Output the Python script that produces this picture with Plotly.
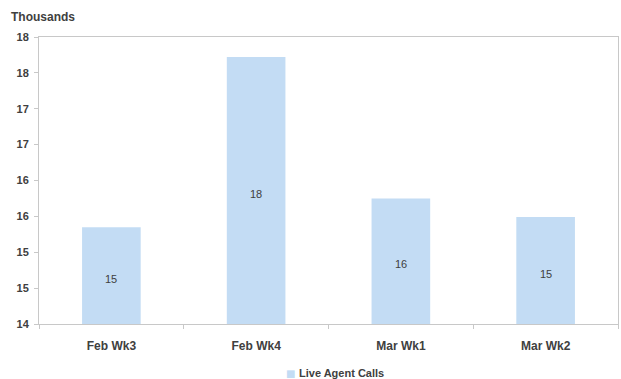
import plotly.graph_objects as go

categories = ["Feb Wk3", "Feb Wk4", "Mar Wk1", "Mar Wk2"]
calls_thousands = [15.35, 17.72, 15.75, 15.49]
bar_labels = ["15", "18", "16", "15"]
y_tick_vals = [14, 14.5, 15, 15.5, 16, 16.5, 17, 17.5, 18]
y_tick_labels = ["14", "15", "15", "16", "16", "17", "17", "18", "18"]
series_name = "Live Agent Calls"
y_min, y_max = 14, 18

font_family = "Liberation Sans, Arial, sans-serif"
text_color = "#404040"
bar_color = "#c3dcf4"

fig = go.Figure()
fig.add_trace(go.Bar(
    x=categories,
    y=calls_thousands,
    name=series_name,
    marker=dict(color=bar_color, line=dict(width=0)),
    width=0.405,
    showlegend=False,
    hoverinfo="x+y",
))

# data labels centred in the visible part of each bar
for cat, v, lab in zip(categories, calls_thousands, bar_labels):
    fig.add_annotation(
        x=cat, y=(y_min + v) / 2, xref="x", yref="y",
        text=lab, showarrow=False, yshift=-3,
        font=dict(family=font_family, size=11, color=text_color),
    )

fig.update_layout(
    width=621, height=379,
    margin=dict(l=39, r=3, t=37, b=55, autoexpand=False),
    paper_bgcolor="white",
    plot_bgcolor="white",
    font=dict(family=font_family, color=text_color),
    showlegend=False,
    xaxis=dict(
        showgrid=False,
        showline=True, linecolor="#c8c8c8", linewidth=1, mirror=True,
        ticks="outside", ticklen=4, tickcolor="#c8c8c8",
        tickson="boundaries",
        tickfont=dict(family=font_family, size=12, color=text_color, weight="bold"),
        ticklabelstandoff=11,
    ),
    yaxis=dict(
        range=[y_min, y_max],
        tickvals=y_tick_vals,
        ticktext=y_tick_labels,
        showgrid=False, zeroline=False,
        showline=True, linecolor="#c8c8c8", linewidth=1, mirror=True,
        ticks="outside", ticklen=4, tickcolor="#c8c8c8",
        tickfont=dict(family=font_family, size=11, color=text_color, weight="bold"),
        ticklabelstandoff=3,
    ),
    bargap=0.6,
)

# legend (series key) drawn below the axis
legend_y = -(373 - 324) / 287
fig.add_annotation(
    text="■", xref="paper", yref="paper",
    x=(290 - 39) / 579, y=legend_y, xanchor="center", yanchor="middle",
    showarrow=False, font=dict(family="DejaVu Sans", size=10, color=bar_color),
)
fig.add_annotation(
    text=f"<b>{series_name}</b>",
    xref="paper", yref="paper",
    x=(297 - 39) / 579, y=legend_y, xanchor="left", yanchor="middle",
    showarrow=False, font=dict(family=font_family, size=11, color=text_color),
)

fig.add_annotation(
    text="<b>Thousands</b>", xref="paper", yref="paper",
    x=(9 - 39) / 579, y=1 + (37 - 17) / 287, xanchor="left", yanchor="middle",
    showarrow=False, font=dict(family=font_family, size=12, color=text_color),
)

fig.write_html("out.html")
